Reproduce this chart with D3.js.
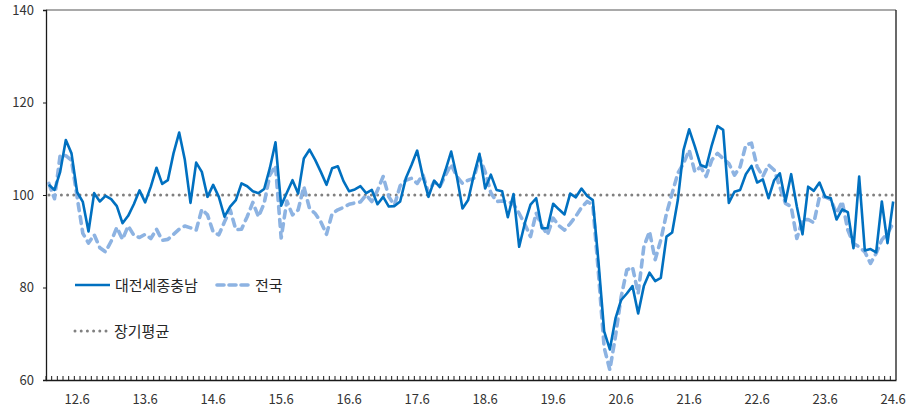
<!DOCTYPE html>
<html lang="ko">
<head>
<meta charset="UTF-8">
<title>대전세종충남 vs 전국</title>
<style>
  body { margin: 0; background: #fff; }
  svg text { font-family: "Noto Sans CJK KR", "Noto Sans", sans-serif; }
</style>
</head>
<body>
<div id="chart"></div>
<script src="https://d3js.org/d3.v7.min.js"></script>
<script>

// monthly categories 12.1 ~ 24.6
const years = [12, 13, 14, 15, 16, 17, 18, 19, 20, 21, 22, 23, 24];
const categories = [];
years.forEach(yy => {
    for (let m = 1; m <= 12; m++) {
        if (yy === 24 && m > 6) break;
        categories.push(yy + "." + m);
    }
});

const tickLabels = ["12.6", "13.6", "14.6", "15.6", "16.6", "17.6", "18.6",
    "19.6", "20.6", "21.6", "22.6", "23.6", "24.6"];

const yTicks = [60, 80, 100, 120, 140];
const longAvg = 100;

// 대전세종충남
const regionValues = [
    102.2, 101.1, 105.0, 111.9, 109.0, 100.6, 98.5, 92.1, 100.4, 98.6, 99.8, 99.1,
    97.6, 93.9, 95.5, 98.0, 101.0, 98.4, 101.8, 105.9, 102.4, 103.2, 109.0, 113.5,
    107.6, 98.3, 107.0, 105.0, 99.6, 102.2, 99.6, 95.3, 97.5, 98.9, 102.5, 101.9,
    100.8, 100.4, 101.3, 105.8, 111.4, 97.7, 100.5, 103.2, 100.3, 107.9, 109.8, 107.6,
    105.0, 102.2, 105.8, 106.2, 103.0, 100.8, 101.2, 101.9, 100.4, 101.1, 98.0, 99.6,
    97.5, 97.6, 98.6, 103.6, 106.5, 109.6, 104.0, 99.6, 103.1, 101.7, 105.4, 109.4,
    104.0, 97.1, 98.9, 104.3, 108.9, 101.4, 104.4, 101.1, 100.8, 95.2, 100.2, 88.8,
    93.9, 97.9, 99.3, 92.8, 92.8, 98.1, 96.9, 95.8, 100.3, 99.5, 101.4, 99.8,
    98.9, 85.5, 70.5, 66.6, 73.3, 77.3, 78.7, 80.3, 74.4, 80.3, 83.2, 81.4,
    82.1, 91.0, 91.9, 98.9, 109.7, 114.2, 110.5, 106.5, 106.0, 110.8, 114.9, 114.1,
    98.3, 100.7, 101.1, 104.5, 106.3, 102.7, 103.4, 99.3, 103.2, 104.7, 98.6, 104.5,
    97.5, 91.5, 101.8, 100.9, 102.7, 99.6, 99.3, 94.7, 96.9, 96.3, 88.5, 104.0,
    88.0, 88.3, 87.6, 98.6, 89.6, 98.6
];

// 전국
const nationValues = [
    102.5, 99.2, 108.6, 108.5, 107.5, 99.5, 91.7, 89.6, 91.4, 88.6, 87.7, 90.0,
    93.0, 90.4, 93.3, 91.3, 90.8, 91.5, 90.6, 92.6, 90.2, 90.4, 91.5, 92.6,
    93.3, 92.9, 92.4, 96.9, 95.7, 92.0, 91.4, 94.2, 96.8, 92.5, 92.6, 95.3,
    98.4, 95.3, 98.2, 104.3, 106.3, 90.7, 98.7, 95.7, 96.8, 101.8, 97.1, 96.0,
    94.2, 91.5, 96.0, 96.8, 97.3, 98.0, 98.3, 98.5, 100.0, 98.6, 101.0, 104.0,
    99.6, 97.8, 102.0, 103.2, 103.6, 102.5, 104.4, 100.5, 102.9, 101.8, 104.3, 106.6,
    104.0, 102.5, 103.2, 103.6, 108.2, 105.0, 100.5, 98.6, 98.7, 98.6, 98.1, 96.0,
    93.7, 91.0, 96.1, 93.3, 91.4, 95.0, 93.4, 92.4, 93.8, 95.4, 97.3, 98.6,
    97.8, 83.0, 67.0, 62.2, 69.5, 78.0, 83.8, 84.4, 78.7, 88.8, 92.1, 86.0,
    90.3, 96.0, 100.4, 104.7, 106.8, 109.7, 105.0, 106.1, 104.0, 107.6, 109.0, 107.9,
    106.8, 104.3, 106.1, 110.8, 111.2, 106.1, 104.0, 106.5, 105.4, 101.8, 98.2, 97.5,
    90.6, 94.6, 94.7, 94.0, 99.6, 99.6, 99.0, 96.0, 98.6, 92.4, 89.5, 88.8,
    87.7, 85.2, 87.4, 90.3, 91.7, 93.9
];

const W = 909, H = 411;
const plot = { left: 46, right: 896, top: 10, bottom: 380 };

const svg = d3.select("#chart").append("svg")
    .attr("width", W).attr("height", H);

const x = d3.scaleBand()
    .domain(categories)
    .range([plot.left, plot.right]);

const y = d3.scaleLinear()
    .domain([60, 140])
    .range([plot.bottom, plot.top]);

const cx = c => x(c) + x.bandwidth() / 2;

// frame: top grey, right black
svg.append("line")
    .attr("x1", plot.left).attr("x2", plot.right)
    .attr("y1", plot.top).attr("y2", plot.top)
    .attr("stroke", "#8c8c8c").attr("stroke-width", 1.5);
svg.append("line")
    .attr("x1", plot.right).attr("x2", plot.right)
    .attr("y1", plot.top).attr("y2", plot.bottom)
    .attr("stroke", "#1a1a1a").attr("stroke-width", 1.3);

// monthly minor ticks, pointing up into the plot
svg.append("g")
    .selectAll("line")
    .data(categories)
    .join("line")
    .attr("x1", d => x(d)).attr("x2", d => x(d))
    .attr("y1", plot.bottom).attr("y2", plot.bottom - 4)
    .attr("stroke", "#1a1a1a").attr("stroke-width", 1);

// x axis labels
const xAxis = svg.append("g")
    .attr("transform", `translate(0, ${plot.bottom})`)
    .call(d3.axisBottom(x).tickValues(tickLabels).tickSize(0).tickPadding(15));
xAxis.select(".domain").attr("stroke", "#1a1a1a").attr("stroke-width", 1.3);
xAxis.selectAll("text").attr("font-size", "13px").attr("fill", "#333")
    .style("font-family", "'Noto Sans CJK KR', 'Noto Sans', sans-serif");

// y axis
const yAxis = svg.append("g")
    .attr("transform", `translate(${plot.left}, 0)`)
    .call(d3.axisLeft(y).tickValues(yTicks).tickSize(3).tickPadding(9));
yAxis.select(".domain").attr("stroke", "#1a1a1a").attr("stroke-width", 1.3);
yAxis.selectAll("line").attr("stroke", "#1a1a1a");
yAxis.selectAll("text").attr("font-size", "13px").attr("fill", "#333")
    .style("font-family", "'Noto Sans CJK KR', 'Noto Sans', sans-serif");

// long-term average
svg.append("line")
    .attr("x1", plot.left + 3).attr("x2", plot.right - 2)
    .attr("y1", y(longAvg)).attr("y2", y(longAvg))
    .attr("stroke", "#808080").attr("stroke-width", 3)
    .attr("stroke-linecap", "round").attr("stroke-dasharray", "0,6.2");

const line = d3.line()
    .x((d, i) => cx(categories[i]))
    .y(d => y(d));

// 전국 (dashed)
svg.append("path")
    .datum(nationValues)
    .attr("d", line)
    .attr("fill", "none")
    .attr("stroke", "#8db3e2").attr("stroke-width", 3.6)
    .attr("stroke-linecap", "round").attr("stroke-linejoin", "round")
    .attr("stroke-dasharray", "7,6");

// 대전세종충남 (solid)
svg.append("path")
    .datum(regionValues)
    .attr("d", line)
    .attr("fill", "none")
    .attr("stroke", "#0070c0").attr("stroke-width", 2.6)
    .attr("stroke-linejoin", "round");

// legend
const legend = svg.append("g").attr("font-size", "15px").attr("fill", "#262626");

legend.append("line")
    .attr("x1", 75).attr("x2", 110).attr("y1", 285).attr("y2", 285)
    .attr("stroke", "#0070c0").attr("stroke-width", 2.6);
legend.append("text").attr("x", 115).attr("y", 290.5).text("대전세종충남");

legend.append("line")
    .attr("x1", 217).attr("x2", 248).attr("y1", 285).attr("y2", 285)
    .attr("stroke", "#8db3e2").attr("stroke-width", 3.6)
    .attr("stroke-linecap", "round").attr("stroke-dasharray", "7,5");
legend.append("text").attr("x", 255).attr("y", 290.5).text("전국");

legend.append("line")
    .attr("x1", 75).attr("x2", 107).attr("y1", 331).attr("y2", 331)
    .attr("stroke", "#808080").attr("stroke-width", 3)
    .attr("stroke-linecap", "round").attr("stroke-dasharray", "0,6.2");
legend.append("text").attr("x", 114).attr("y", 336.5).text("장기평균");

</script>
</body>
</html>
